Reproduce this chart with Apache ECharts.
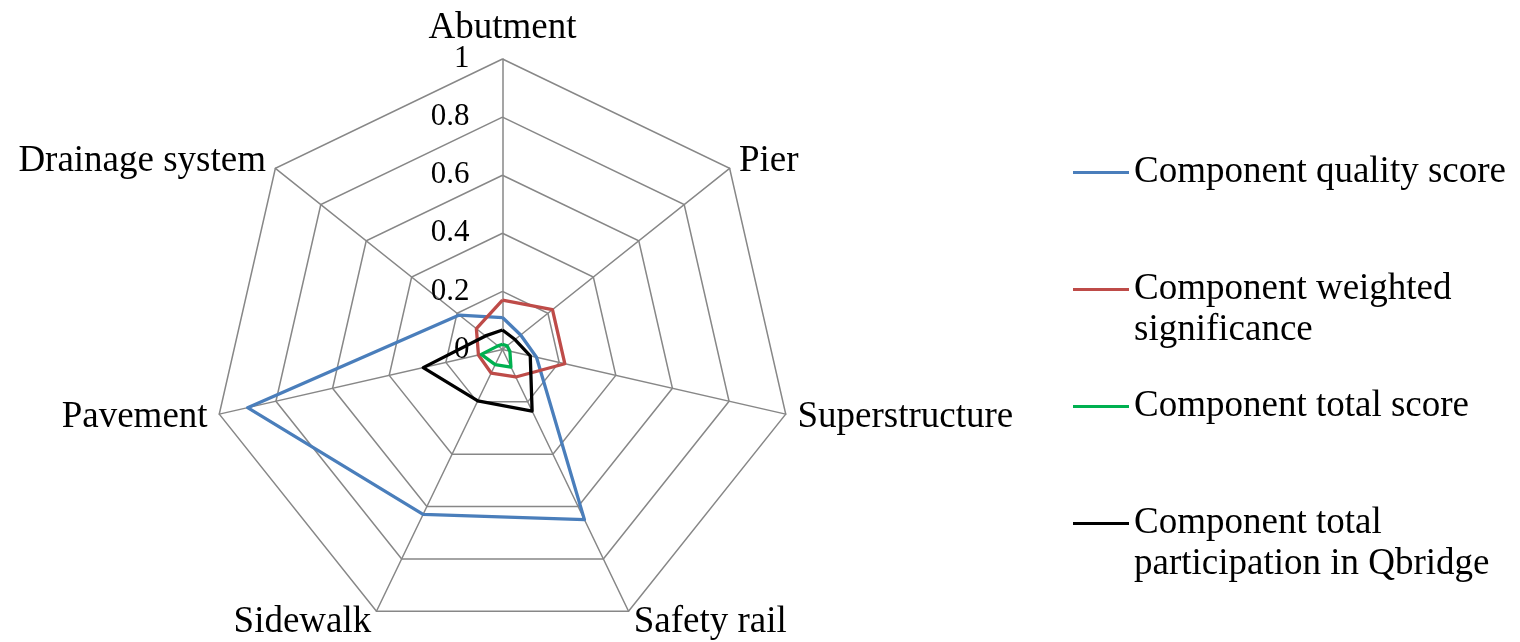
<!DOCTYPE html>
<html>
<head>
<meta charset="utf-8">
<script src="https://cdn.jsdelivr.net/npm/echarts@6/dist/echarts.min.js"></script>
<style>
  html, body { margin: 0; padding: 0; background: #fff; }
  #chart { width: 1520px; height: 642px; }
</style>
</head>
<body>
<div id="chart"></div>
<script>
// axes, clockwise from the top as in the picture
var categories = ['Abutment', 'Pier', 'Superstructure', 'Safety rail', 'Sidewalk', 'Pavement', 'Drainage system'];
var tickLabels = [0, 0.2, 0.4, 0.6, 0.8, 1];

var qualityScore = [0.11, 0.08, 0.12, 0.65, 0.63, 0.90, 0.19];
var weightedSignificance = [0.17, 0.22, 0.22, 0.105, 0.09, 0.085, 0.115];
var totalScore = [0.018, 0.02, 0.026, 0.067, 0.058, 0.075, 0.02];
var participation = [0.067, 0.055, 0.098, 0.235, 0.196, 0.28, 0.075];

var seriesNames = ['Component quality score', 'Component weighted\nsignificance', 'Component total score', 'Component total\nparticipation in Qbridge'];
var seriesColors = ['#4a7ebb', '#be4b48', '#00b050', '#000000'];

// echarts lays radar axes counter-clockwise, so flip the order after the first one
function toCcw(arr) {
    return [arr[0]].concat(arr.slice(1).reverse());
}

var font = 'Liberation Serif, Times New Roman, serif';
var gridColor = '#878787';

var myChart = echarts.init(document.getElementById('chart'));

var indicator = toCcw(categories).map(function (c) {
    return { name: c, min: 0, max: 1 };
});

var values = [qualityScore, weightedSignificance, totalScore, participation];

var option = {
    animation: false,
    color: seriesColors,
    legend: {
        orient: 'vertical',
        left: 1073,
        top: 152,
        padding: 0,
        itemGap: 35,
        itemWidth: 56,
        itemHeight: 3,
        icon: 'rect',
        data: seriesNames,
        formatter: function (name) {
            return name.indexOf('\n') >= 0 ? '\n' + name : name;
        },
        textStyle: {
            fontFamily: font,
            fontSize: 37,
            lineHeight: 41,
            color: '#000'
        }
    },
    radar: {
        center: [502.5, 349.5],
        radius: 290.5,
        startAngle: 90,
        shape: 'polygon',
        splitNumber: 5,
        nameGap: 12,
        indicator: indicator,
        axisName: {
            color: '#000',
            fontFamily: font,
            fontSize: 37,
            padding: [4, 0, 0, 0]
        },
        axisLine: { lineStyle: { color: gridColor, width: 1.5 } },
        splitLine: { lineStyle: { color: gridColor, width: 1.5 } },
        splitArea: { show: false }
    },
    // polar overlay only to print the value labels along the top axis
    polar: {
        center: [502.5, 349.5],
        radius: 290.5
    },
    angleAxis: {
        show: false,
        startAngle: 90,
        min: 0,
        max: 360
    },
    radiusAxis: {
        min: 0,
        max: 1,
        interval: 0.2,
        axisLine: { show: false },
        axisTick: { show: false },
        splitLine: { show: false },
        axisLabel: {
            margin: 33,
            fontFamily: font,
            fontSize: 31,
            color: '#000',
            padding: [4, 0, 0, 0],
            formatter: function (v) {
                return String(tickLabels[Math.round(v * 5)]);
            }
        }
    },
    series: values.map(function (vals, i) {
        return {
            name: seriesNames[i],
            type: 'radar',
            symbol: 'none',
            lineStyle: { width: 3.3, color: seriesColors[i] },
            itemStyle: { color: seriesColors[i] },
            data: [{ value: toCcw(vals), name: seriesNames[i] }]
        };
    })
};

myChart.setOption(option);
</script>
</body>
</html>
